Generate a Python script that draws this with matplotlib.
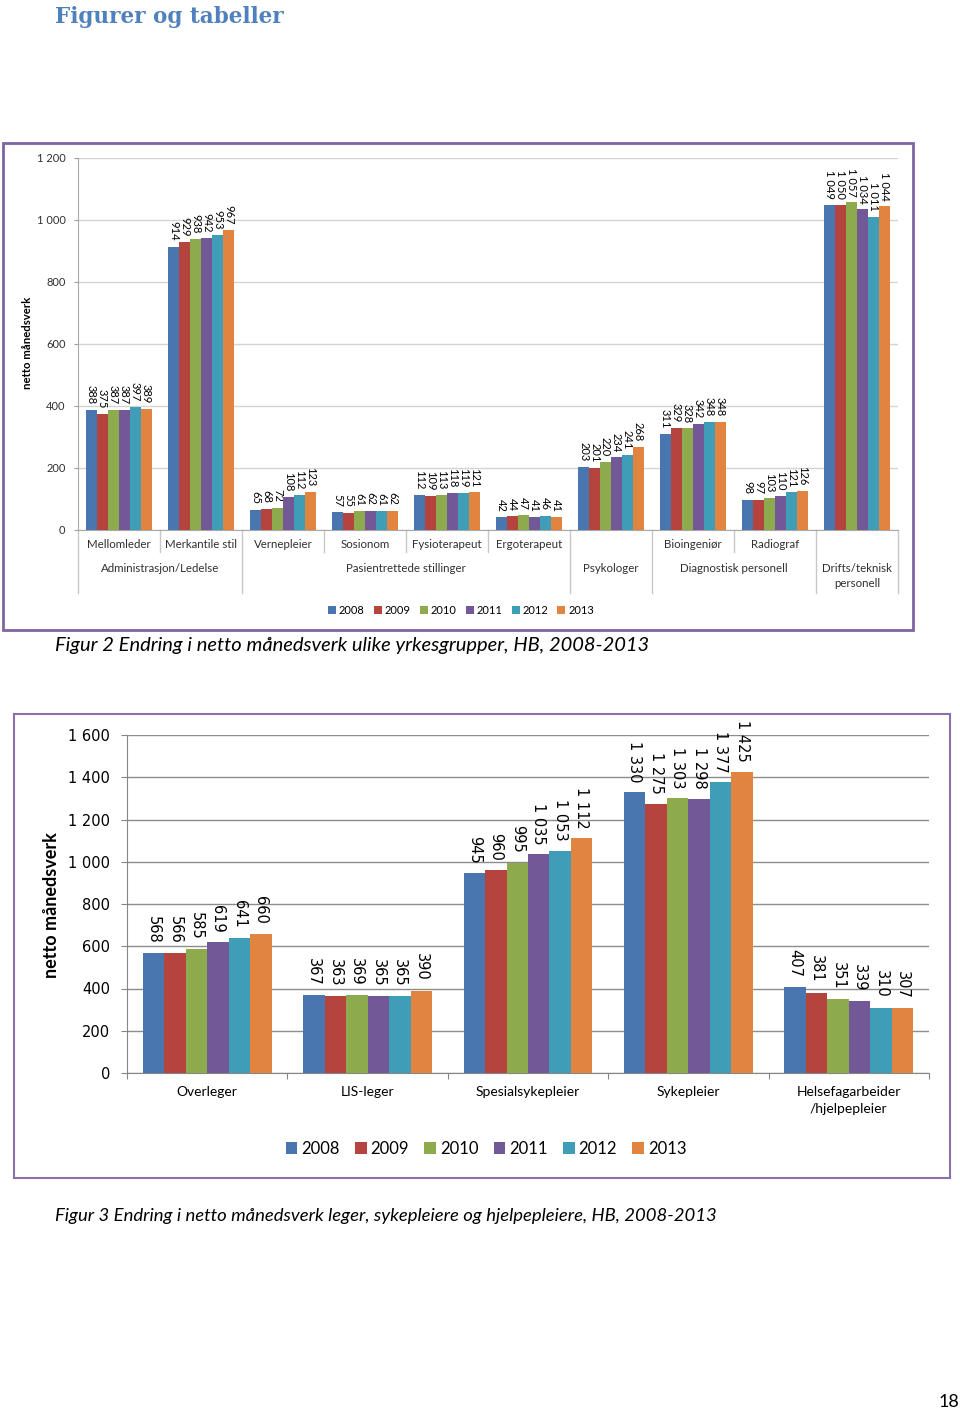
import numpy as np
import matplotlib.pyplot as plt
from matplotlib.patches import Rectangle

plt.rcParams['font.family'] = ['Lato', 'DejaVu Sans']

W, H = 960, 1410

years = ["2008", "2009", "2010", "2011", "2012", "2013"]
colors = ["#4A76B0", "#B5443F", "#8DAA4D", "#725896", "#3F9DB8", "#E0843F"]

# Figur 2: yrkesgrupper
f2_cats = ["Mellomleder", "Merkantile stil", "Vernepleier", "Sosionom", "Fysioterapeut",
           "Ergoterapeut", "", "Bioingeniør", "Radiograf", ""]
f2_groups = ["Administrasjon/Ledelse", "Pasientrettede stillinger", "Psykologer",
             "Diagnostisk personell", "Drifts/teknisk\npersonell"]
f2_group_pos = [0.5, 3.5, 6, 7.5, 9]
f2_long_seps = [-0.5, 1.5, 5.5, 6.5, 8.5, 9.5]
f2_short_seps = [0.5, 2.5, 3.5, 4.5, 7.5]
f2_2008 = [388, 914, 65, 57, 112, 42, 203, 311, 98, 1049]
f2_2009 = [375, 929, 68, 55, 109, 44, 201, 329, 97, 1050]
f2_2010 = [387, 938, 72, 61, 113, 47, 220, 328, 103, 1057]
f2_2011 = [387, 942, 108, 62, 118, 41, 234, 342, 110, 1034]
f2_2012 = [397, 953, 112, 61, 119, 46, 241, 348, 121, 1011]
f2_2013 = [389, 967, 123, 62, 121, 41, 268, 348, 126, 1044]

# Figur 3: leger, sykepleiere, hjelpepleiere
f3_cats = ["Overleger", "LIS-leger", "Spesialsykepleier", "Sykepleier",
           "Helsefagarbeider\n/hjelpepleier"]
f3_2008 = [568, 367, 945, 1330, 407]
f3_2009 = [566, 363, 960, 1275, 381]
f3_2010 = [585, 369, 995, 1303, 351]
f3_2011 = [619, 365, 1035, 1298, 339]
f3_2012 = [641, 365, 1053, 1377, 310]
f3_2013 = [660, 390, 1112, 1425, 307]


def fmt(v):
    return f"{v:,}".replace(",", " ")


def px_axes(fig, left, top, right, bottom):
    return fig.add_axes([left / W, 1 - bottom / H, (right - left) / W, (bottom - top) / H])


def grouped(ax, series, fs, pad, family=None):
    x = np.arange(len(series[0]))
    w = 0.134
    handles = []
    for i, (vals, c) in enumerate(zip(series, colors)):
        b = ax.bar(x + (i - 2.5) * w, vals, w, color=c, linewidth=0, zorder=3)
        kw = dict(rotation=-90, padding=pad, fontsize=fs)
        if family:
            kw["family"] = family
        ax.bar_label(b, labels=[fmt(v) for v in vals], **kw)
        handles.append(b)
    return handles


fig = plt.figure(figsize=(W / 100, H / 100), dpi=100)

# ---------- Figur 2 ----------
ax1 = px_axes(fig, 78, 158, 898, 530)
h1 = grouped(ax1, [f2_2008, f2_2009, f2_2010, f2_2011, f2_2012, f2_2013], 8, 4)
ax1.set_xlim(-0.5, 9.5)
ax1.set_ylim(0, 1200)
ax1.set_yticks(range(0, 1201, 200))
ax1.set_yticklabels([fmt(v) for v in range(0, 1201, 200)])
ax1.tick_params(axis="y", length=3, color="#A0A0A0", labelsize=8, pad=6, labelcolor="#303030")
ax1.set_xticks([])
ax1.yaxis.grid(True, color="#D4D4D4", lw=1)
ax1.set_axisbelow(True)
for s in ["top", "right"]:
    ax1.spines[s].set_visible(False)
for s in ["left", "bottom"]:
    ax1.spines[s].set_color("#A8A8A8")

tr1 = ax1.get_xaxis_transform()
for i, name in enumerate(f2_cats):
    ax1.text(i, -0.025, name, transform=tr1, ha="center", va="top", fontsize=8.3, color="#303030")
for p, name in zip(f2_group_pos, f2_groups):
    ax1.text(p, -0.088, name, transform=tr1, ha="center", va="top", fontsize=8.3,
             color="#303030", linespacing=1.45)
for p in f2_long_seps:
    ax1.plot([p, p], [0, -0.169], transform=tr1, color="#C8C8C8", lw=1, clip_on=False)
for p in f2_short_seps:
    ax1.plot([p, p], [0, -0.059], transform=tr1, color="#C8C8C8", lw=1, clip_on=False)

fig.text(28 / W, 1 - 343 / H, "netto månedsverk", rotation=90, fontweight="bold",
         fontsize=8.2, ha="center", va="center")
fig.legend(h1, years, loc="center", bbox_to_anchor=(461 / W, 1 - 610 / H), ncol=6,
           frameon=False, fontsize=8, handlelength=0.7, handleheight=0.7,
           handletextpad=0.25, columnspacing=0.85, borderaxespad=0)

fig.add_artist(Rectangle((3 / W, 1 - 630 / H), 910 / W, 487 / H, transform=fig.transFigure,
                         fill=False, ec="#8064A2", lw=2))

# ---------- Figur 3 ----------
ax2 = px_axes(fig, 127, 735, 929, 1073)
h2 = grouped(ax2, [f3_2008, f3_2009, f3_2010, f3_2011, f3_2012, f3_2013], 10.5, 7,
             family="DejaVu Sans")
ax2.set_xlim(-0.5, 4.5)
ax2.set_ylim(0, 1600)
ax2.set_yticks(range(0, 1601, 200))
ax2.set_yticklabels([fmt(v) for v in range(0, 1601, 200)], family="DejaVu Sans")
ax2.tick_params(axis="y", length=4, color="#868686", labelsize=10.5, pad=8)
ax2.set_xticks(np.arange(-0.5, 5, 1))
ax2.set_xticklabels([])
ax2.tick_params(axis="x", length=4, color="#868686")
ax2.yaxis.grid(True, color="#8C8C8C", lw=1)
ax2.set_axisbelow(True)
for s in ["top", "right"]:
    ax2.spines[s].set_visible(False)
for s in ["left", "bottom"]:
    ax2.spines[s].set_color("#868686")

tr2 = ax2.get_xaxis_transform()
for i, name in enumerate(f3_cats):
    ax2.text(i, -0.037, name, transform=tr2, ha="center", va="top", fontsize=10,
             linespacing=1.5)

fig.text(52 / W, 1 - 905 / H, "netto månedsverk", rotation=90, fontweight="bold",
         fontsize=13, ha="center", va="center")
fig.legend(h2, years, loc="center", bbox_to_anchor=(486 / W, 1 - 1149 / H), ncol=6,
           frameon=False, fontsize=12, handlelength=0.7, handleheight=0.7,
           handletextpad=0.25, columnspacing=0.9, borderaxespad=0)

fig.add_artist(Rectangle((14 / W, 1 - 1178 / H), 936 / W, 464 / H, transform=fig.transFigure,
                         fill=False, ec="#8C6FAE", lw=1.5))

# ---------- page text ----------
fig.text(55 / W, 1 - 17 / H, "Figurer og tabeller", family="DejaVu Serif", fontweight="bold",
         color="#4F81BD", fontsize=15.5, va="center")
fig.text(55 / W, 1 - 646 / H, "Figur 2 Endring i netto månedsverk ulike yrkesgrupper, HB, 2008-2013",
         style="italic", fontsize=14.5, va="center")
fig.text(55 / W, 1 - 1216 / H,
         "Figur 3 Endring i netto månedsverk leger, sykepleiere og hjelpepleiere, HB, 2008-2013",
         style="italic", fontsize=13.3, va="center")
fig.text(949 / W, 1 - 1402 / H, "18", ha="center", va="center", fontsize=13)

fig.savefig("out.png", dpi=100)
